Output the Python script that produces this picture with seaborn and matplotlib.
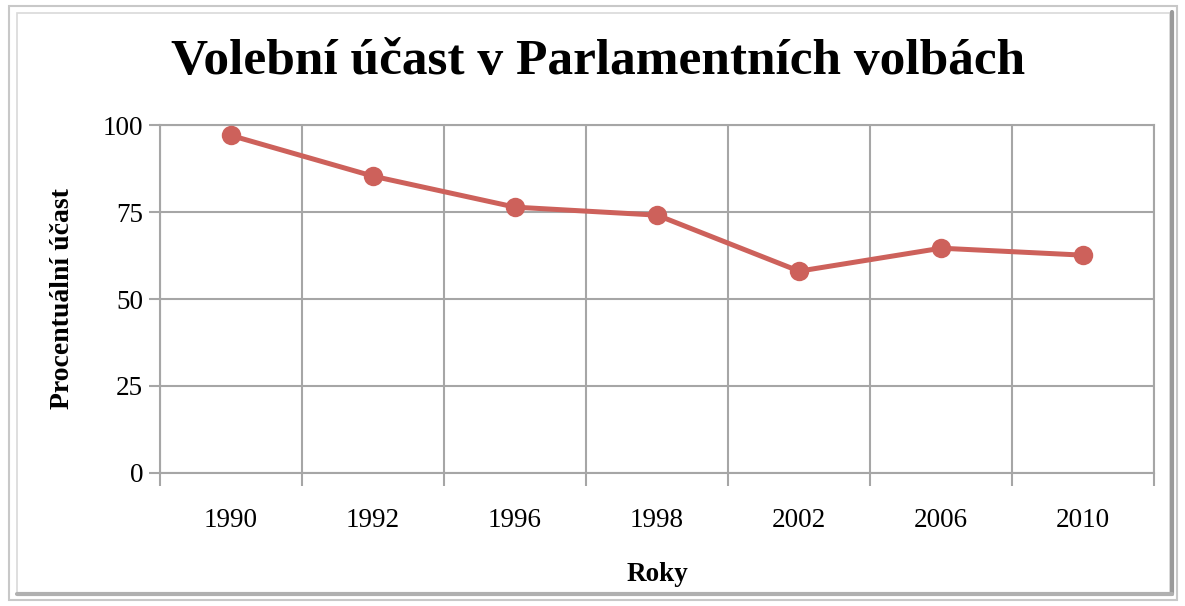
import matplotlib
matplotlib.use("Agg")
import matplotlib.pyplot as plt
import seaborn as sns
import pandas as pd
from matplotlib.patches import Rectangle
from matplotlib.ticker import FixedLocator

# Data
years = ["1990", "1992", "1996", "1998", "2002", "2006", "2010"]
turnout = [97.0, 85.3, 76.4, 74.1, 58.0, 64.6, 62.6]
y_ticks = [0, 25, 50, 75, 100]

df = pd.DataFrame({"rok": years, "ucast": turnout})

sns.set_style("white")
plt.rcParams["font.family"] = ["Liberation Serif", "DejaVu Serif"]
plt.rcParams["text.color"] = "black"
plt.rcParams["axes.labelcolor"] = "black"
plt.rcParams["xtick.color"] = "black"
plt.rcParams["ytick.color"] = "black"

line_color = "#CD615B"
grid_color = "#A6A6A6"

fig = plt.figure(figsize=(11.85, 6.06), dpi=100)
ax = fig.add_axes([0.135, 0.2195, 0.839, 0.5742])

sns.lineplot(data=df, x="rok", y="ucast", ax=ax, color=line_color,
             linewidth=3.6, marker="o", markersize=14, markeredgewidth=0,
             sort=False, zorder=3)

n = len(years)
ax.set_xlim(-0.5, n - 0.5)
ax.set_ylim(0, 100)
ax.set_yticks(y_ticks)
ax.xaxis.set_minor_locator(FixedLocator([i - 0.5 for i in range(n + 1)]))
ax.tick_params(axis="x", which="major", bottom=False, length=0, pad=25, labelsize=19.5)
ax.tick_params(axis="x", which="minor", bottom=True, length=9, width=1.5,
               color=grid_color, direction="out")
ax.tick_params(axis="y", left=True, length=8, width=1.5, color=grid_color,
               labelcolor="black", labelsize=19.5, pad=4, direction="out")
ax.grid(False)
ax.grid(axis="y", which="major", color=grid_color, linewidth=1.5)
ax.grid(axis="x", which="minor", color=grid_color, linewidth=1.5)
for s in ax.spines.values():
    s.set_color(grid_color)
    s.set_linewidth(1.5)

ax.set_xlabel("Roky", fontsize=19.5, fontweight="bold", labelpad=21)
ax.set_ylabel("Procentuální účast", fontsize=20, fontweight="bold", labelpad=20)

fig.text(0.505, 0.897, "Volební účast v Parlamentních volbách",
         ha="center", va="center", fontsize=37, fontweight="bold")

# chart frame with a soft shadow on the right and bottom
fig.patches.append(Rectangle((9 / 1185, 6 / 606), 1168 / 1185, 594 / 606,
                             transform=fig.transFigure, fill=False,
                             edgecolor="#C8C8C8", linewidth=1.5))
fig.patches.append(Rectangle((17 / 1185, 13 / 606), 1153 / 1185, 580 / 606,
                             transform=fig.transFigure, fill=False,
                             edgecolor="#D9D9D9", linewidth=1.2))
fig.lines.append(plt.Line2D([1172 / 1185, 1172 / 1185], [12 / 606, 594 / 606],
                            transform=fig.transFigure, color="#9A9A9A", linewidth=3))
fig.lines.append(plt.Line2D([17 / 1185, 1172 / 1185], [12 / 606, 12 / 606],
                            transform=fig.transFigure, color="#B0B0B0", linewidth=3))

fig.savefig("out.png", dpi=100)
